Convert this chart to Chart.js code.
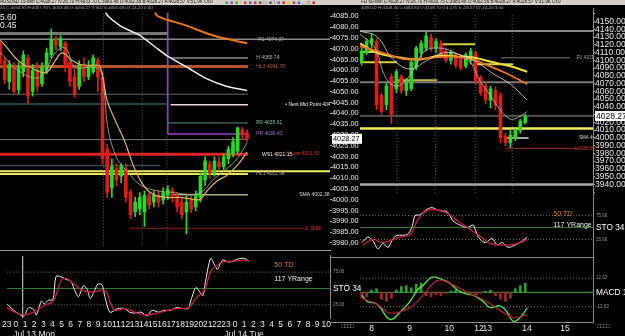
<!DOCTYPE html>
<html>
<head>
<meta charset="utf-8">
<script src="https://cdn.jsdelivr.net/npm/chart.js@4/dist/chart.umd.min.js"></script>
<style>
body { margin: 0; background: #000; width: 625px; height: 336px; overflow: hidden; position: relative; font-family: "Liberation Sans", Arial, sans-serif; }
canvas { position: absolute; }
.t { position: absolute; white-space: nowrap; line-height: 1; }
.ln { position: absolute; }
</style>
</head>
<body>
<canvas id="leftPrice" width="362" height="242" style="left:0;top:8px"></canvas>
<canvas id="leftSto" width="362" height="86" style="left:0;top:250px"></canvas>
<canvas id="rightPrice" width="265" height="190" style="left:360px;top:8px"></canvas>
<canvas id="rightSto" width="265" height="59" style="left:360px;top:198px"></canvas>
<canvas id="rightMacd" width="265" height="79" style="left:360px;top:257px"></canvas>

<div class="ln" style="left:0;top:0;width:625px;height:5px;background:#d4d0c8"></div>
<div class="t" style="left:0;top:0;font-size:4.6px;color:#111">AUSUSD 15-Min C:4028.27 N:26.70 H:4033.70 L:3983.48 O:4002.36 B:4028.27 A:4028.57 V:51.9K Oi:0</div>
<div class="t" style="left:225px;top:0;font-size:5px;letter-spacing:2px"><span style="color:#2a6">■</span><span style="color:#a4c">■</span><span style="color:#3a3">■</span><span style="color:#da3">/</span><span style="color:#c33">■</span><span style="color:#36c">■</span><span style="color:#c33">■</span><span style="color:#555">■</span><span style="color:#555">□</span><span style="color:#555">■</span><span style="color:#333">\</span><span style="color:#56c">■</span><span style="color:#c33">■</span><span style="color:#cc3">■</span><span style="color:#c33">■</span><span style="color:#36c">■</span><span style="color:#555">_</span><span style="color:#555">□</span><span style="color:#c22">■</span></div>
<div class="t" style="left:361px;top:0;font-size:4.6px;color:#111">FD 60-Min C:4028.27 N:26.70 H:4033.75 L:3983.48 O:4002.56 B:4028.27 A:4028.57 V:31.9K Oi:0</div>
<div class="t" style="left:0;top:6px;font-size:4.4px;color:#aaa">45 C:4054.81 H:4057.70 L:4053.38 O:4056.27 V:902 S:4056.68 07-13-20 0:00</div>
<div class="t" style="left:361px;top:6px;font-size:4.4px;color:#aaa">4090.02 H:4108.40 L:4084.84 O:4108.70 V:4,175 S:-19.57 07-14-20 3:00</div>
<div class="t" style="left:0;top:13px;font-size:8.5px;color:#eee">5.60</div>
<div class="t" style="left:0;top:21px;font-size:8.5px;color:#eee">0.45</div>

<div class="ln" style="left:0;top:250px;width:331px;height:1px;background:#999"></div>
<div class="ln" style="left:330px;top:257px;width:264px;height:1px;background:#888"></div>
<div class="ln" style="left:330px;top:322px;width:264px;height:1px;background:#888"></div>
<div class="ln" style="left:593px;top:8px;width:1px;height:314px;background:#888"></div>
<div class="t" style="left:341px;top:323px;font-size:6px;color:#aaa;letter-spacing:-0.5px">□□□□</div>
<div class="t" style="left:597px;top:323px;font-size:6px;color:#aaa;letter-spacing:-0.5px">□□□□</div>

<script>
// ---------- left window: 15-min, x in hours from Jul 13 00:00 ----------
const leftTimes = [-1,-0.5,0,0.5,1,1.5,2,2.5,3,3.5,4,4.5,5,5.5,6,6.5,7,7.5,8,8.5,9,9.5,10,10.5,11,11.5,12,12.5,13,13.5,14,14.5,15,15.5,16,16.5,17,17.5,18,18.5,19,19.5,20,20.5,21,21.5,22,22.5,23,23.5,24,24.5,25,25.5];
const leftOpen = [4072.5,4064.5,4054.7,4061.8,4051.1,4059.2,4065.8,4050.2,4060.0,4053.8,4060.0,4067.2,4073.9,4070.8,4072.5,4063.6,4056.9,4052.5,4062.7,4056.9,4059.2,4064.5,4056.9,4023.4,4005.6,4014.5,4010.9,4014.5,4003.4,3994.4,3995.8,3994.4,4002.0,3998.9,4002.0,3999.8,4002.0,4004.2,4002.0,3998.9,3994.4,3999.8,3996.7,4001.1,4009.2,4016.7,4012.3,4017.6,4015.4,4019.0,4021.2,4022.5,4032.4,4031.0];
const leftClose = [4063.6,4055.6,4062.7,4050.2,4061.4,4067.2,4048.0,4060.0,4052.5,4061.4,4068.1,4074.3,4071.7,4074.8,4061.4,4054.7,4049.3,4062.7,4056.9,4061.4,4065.8,4056.9,4019.0,4003.4,4015.4,4009.2,4015.4,4001.1,3993.1,3998.9,4001.1,4002.0,3997.5,4002.0,3998.9,4003.4,4004.7,4001.1,3996.7,3993.1,3998.9,3995.8,4002.0,4010.9,4018.1,4012.3,4018.1,4015.4,4019.9,4023.4,4027.0,4033.3,4030.1,4028.27];
const leftHigh = [4073.4,4065.8,4064.5,4063.6,4063.6,4069.0,4067.2,4062.7,4063.6,4063.6,4070.3,4079.2,4075.7,4076.1,4073.4,4065.8,4061.4,4064.5,4065.8,4064.5,4067.2,4065.8,4059.2,4025.7,4019.0,4016.7,4016.7,4016.7,4004.7,4001.1,4003.4,4004.2,4003.4,4004.2,4004.2,4005.6,4006.5,4005.6,4003.4,4001.1,4002.0,4002.0,4004.2,4012.3,4019.9,4018.1,4019.9,4019.9,4021.2,4024.8,4028.8,4033.7,4033.7,4032.4];
const leftLow = [4062.7,4053.8,4051.1,4049.3,4049.3,4056.9,4044.4,4048.0,4050.2,4052.5,4058.3,4065.8,4069.4,4069.0,4059.2,4052.5,4047.5,4051.1,4054.7,4055.6,4058.3,4050.2,4016.7,4001.1,4001.1,4006.5,4007.8,3998.9,3991.3,3992.2,3993.1,3987.7,3995.8,3996.7,3996.7,3998.0,4000.2,3998.9,3994.4,3991.3,3984.2,3994.0,3994.9,3998.9,4006.5,4010.0,4010.9,4013.6,4013.6,4016.7,4019.9,4021.2,4027.9,4027.0];

const leftTanX = [-0.96,-0.21,0.64,1.5,2.25,3.32,4.07,4.93,5.68,6.75,7.61,8.68,9.43,9.75,10.07,10.5,11.36,12.43,13.29,14.36,15.43,16.93,18.33,19.72,20.47,21.22,22.29,23.36,24.44,25.51];
const leftTanY = [4073.9,4070.3,4065.8,4062.7,4061.4,4059.2,4059.2,4064.5,4068.1,4064.5,4062.7,4062.3,4062.3,4061.4,4056.0,4045.8,4036.8,4026.6,4015.9,4006.9,4002.5,4001.1,4001.1,4000.2,4000.2,4004.2,4008.7,4011.4,4015.9,4022.1];
const leftFastX = [-0.96,1.18,3.32,4.93,6.0,7.07,8.68,9.75,10.18,10.61,11.58,12.65,14.04,15.86,17.58,19.72,20.79,21.86,23.36,24.44,25.51];
const leftFastY = [4068.1,4059.2,4056.9,4068.1,4070.3,4061.4,4061.4,4060.0,4050.2,4032.4,4019.0,4013.2,4006.9,4004.2,4003.4,4002.5,4004.2,4009.2,4014.5,4019.0,4026.6];
const leftSlowX = [10.2,10.61,11.9,12.97,14.04,15.65,16.93,19.08,21.22,23.36,25.51];
const leftSlowY = [4088.0,4085.0,4080.6,4078.3,4076.1,4070.8,4066.7,4061.4,4056.0,4052.5,4050.7];
const leftOrangeX = [15.5,15.97,19.08,21.86,24.01,25.51];
const leftOrangeY = [4087.5,4085.0,4080.6,4076.1,4073.9,4072.5];

const leftLevelPrices = [4077.0,4074.37,4065.74,4061.70,4048.9,4044.0,4044.4,4035.61,4030.43,4027.9,4021.15,4015.9,4013.2,4011.98,4002.38,3986.8];
const leftLevelFrom = [-1,-1,17.3,-1,-1,17.3,-1,17.0,17.0,-1,-1,-1,-1,-1,17.3,13.0];
const leftLevelTo = [17.0,34.4,25.6,25.6,25.6,25.6,17.0,25.6,25.6,25.6,25.6,16.2,34.4,25.6,25.6,31.7];
const leftSessionLines = [10.1,14.25,16.9];

const leftTagText = ['R1 4074.37','H 4065.74','HL3 4061.70','\u2022 Next Mid Point 404','R0 4035.61','PP 4030.43','WS1 4021.15','H Low 4021.50','HL1 4011.98','SMA 4002.38','L 3986'];
const leftTagHour = [26.7,26.5,26.5,29.6,26.5,26.5,27.1,29.7,26.5,31.1,31.8];
const leftTagPrice = [4074.37,4065.74,4061.70,4044.0,4035.61,4030.43,4021.15,4021.50,4011.98,4002.38,3986.8];

const leftStoWX = [-0.96,-0.1,0.86,1.39,1.93,2.25,2.79,3.11,3.54,4.07,4.39,4.93,5.47,6.0,6.54,6.86,7.4,7.82,8.15,8.68,9.0,9.43,9.75,10.29,10.83,11.15,11.9,12.43,12.97,13.72,14.36,14.9,15.65,16.18,16.93,17.58,18.33,18.86,19.08,19.4,19.72,20.15,20.47,20.79,21.33,21.76,22.08,22.62,23.37,24.0,24.54,25.08,25.51];
const leftStoWY = [26.4,15.3,8.3,20.8,18.1,9.7,30.6,26.4,31.9,33.3,68.1,68.1,63.9,61.1,44.4,37.5,54.2,48.6,34.7,48.6,56.9,55.6,37.5,13.9,16.7,19.4,19.4,13.9,12.5,13.9,8.3,16.7,13.9,16.7,16.7,20.8,19.4,19.4,27.8,41.7,51.4,44.4,38.9,62.5,95.8,86.1,79.2,93.1,90.3,93.1,95.8,95.8,91.7];
const leftStoRX = [-0.96,-0.1,0.86,1.93,3.0,4.07,4.93,5.47,6.22,7.29,8.36,9.75,10.29,10.83,11.9,13.29,14.36,15.86,17.58,18.86,19.72,20.69,21.33,21.86,22.62,24.0,25.08,25.51];
const leftStoRY = [20.8,13.9,9.7,13.9,23.6,30.6,61.1,65.3,58.3,47.2,44.4,47.2,30.6,16.7,19.4,12.5,9.7,13.9,19.4,20.8,34.7,48.6,76.4,83.3,90.3,91.7,93.1,91.7];

const leftTickHours = [-1,0,1,2,3,4,5,6,7,8,9,10,11,12,13,14,15,16,17,18,19,20,21,22,23,24,25,26,27,28,29,30,31,32,33,34];
const leftTickLabels = ['23','0','1','2','3','4','5','6','7','8','9','10','11','12','13','14','15','16','17','18','19','20','21','22','23','0','1','2','3','4','5','6','7','8','9','10','11'];
const leftDateHours = [2,25];
const leftDateLabels = ['Jul 13 Mon','Jul 14 Tue'];

// ---------- right window: 60-min, x in session hours ----------
const rightTimes = [1,4,7,10,13,16,19,22,25,28,31,34,37,40,43,46,49,52,55,58,61,64,67,70,73,76,79,82,85,88,91,94,97,100];
const rightOpen = [4097.5,4109.7,4121.9,4124.4,4054.8,4042.6,4079.2,4063.3,4079.2,4060.9,4063.3,4091.4,4109.7,4115.8,4129.2,4115.8,4121.9,4112.1,4099.9,4107.3,4103.6,4092.6,4099.9,4109.7,4078.0,4067.0,4048.7,4060.9,4054.8,4002.3,3993.7,3999.8,4009.6,4019.4];
const rightClose = [4112.1,4124.4,4128.0,4042.6,4034.0,4067.0,4030.3,4085.3,4060.9,4073.1,4097.5,4115.8,4121.9,4131.7,4115.8,4124.4,4107.3,4099.9,4109.7,4093.8,4090.2,4107.3,4112.1,4073.1,4058.4,4048.7,4063.3,4042.6,3999.8,3993.7,4003.5,4009.6,4021.8,4028.27];
const rightHigh = [4115.8,4128.0,4134.1,4128.0,4058.4,4070.6,4082.8,4087.7,4081.6,4076.7,4101.2,4118.3,4125.6,4136.6,4134.1,4128.0,4125.6,4115.8,4113.4,4109.7,4107.3,4109.7,4115.8,4112.1,4080.4,4070.6,4067.0,4065.8,4058.4,4005.9,4009.6,4012.0,4024.2,4030.3];
const rightLow = [4093.8,4107.3,4115.8,4036.4,4030.3,4036.4,4018.1,4058.4,4057.2,4054.8,4060.9,4087.7,4103.6,4112.1,4112.1,4109.7,4103.6,4097.5,4095.1,4090.2,4087.7,4090.2,4095.1,4069.4,4054.8,4043.8,4038.9,4036.4,3993.7,3990.1,3987.6,3996.2,4005.9,4018.1];

const rYellowX = [0,10.3,24.2,36.4,48.5,58.8,68.5,80.6,92.7,101.2];
const rYellowY = [4121.9,4109.7,4103.6,4101.2,4106.0,4104.8,4103.6,4097.5,4091.4,4085.3];
const rOrangeX = [0,13.9,28.5,44.2,56.4,68.5,77,89.1,101.2];
const rOrangeY = [4118.3,4109.7,4101.2,4103.6,4104.8,4101.2,4093.8,4082.8,4069.4];
const rSlowX = [0,10.3,20,30.3,40.6,50.3,60.6,70.9,80.6,90.9,101.2];
const rSlowY = [4137.8,4130.5,4101.2,4088.9,4099.9,4109.7,4107.3,4097.5,4082.8,4069.4,4048.7];
const rFastX = [0,9.1,15.2,21.2,27.3,33.3,39.4,48.5,57.6,66.7,72.7,78.8,84.8,90.9,95.8,101.2];
const rFastY = [4134.1,4115.8,4079.2,4067.0,4073.1,4091.4,4112.1,4115.8,4109.7,4097.5,4073.1,4054.8,4036.4,4024.2,4026.7,4034.0];

const rightLevelPrices = [4137.8,4071.9,4028.27,4011.98,3940,4097.5,4110.9,4074.3,4120.7,4095.1,4103.31,3999.8,3986.5];
const rightLevelFrom = [0,0,0,0,0,0,0,22.4,48.5,68.5,85,88,88];
const rightLevelTo = [141,141,141,141,141,22.4,12,46.7,69.7,92.7,127,102,133];
const rightSessionLines = [22.4,45.5,69.7,92.1];
const rightTagText = ['R1 4103.31','SMA 4002.38','L 3986.50'];
const rightTagHour = [131,132.5,130];
const rightTagPrice = [4103.31,3999.8,3986.5];

const rStoWX = [1.2,4.8,7.9,10.9,13.9,17,20,22.4,28.5,31.5,33.3,36.4,40.6,43.6,48.5,52.7,56.4,60.6,64.8,68.5,70.9,72.7,75.8,80,83,86.1,89.7,93.9,98.2,101.2];
const rStoWY = [18.3,30,21.7,5,16.7,8.3,26.7,33.3,35,51.7,75,76.7,88.3,91.7,85,83.3,63.3,55,50,55,35,25,18.3,26.7,13.3,18.3,8.3,13.3,21.7,30];
const rStoRX = [1.8,7.9,13.9,24.2,30.3,34.5,38.2,43.6,52.7,60.6,68.5,74.5,78.8,84.8,90.9,97,101.2];
const rStoRY = [13.3,25,18.3,30,35,63.3,80,88.3,80,60,41.7,26.7,16.7,13.3,13.3,18.3,25];

const rMacdX = [1.2,4.2,10.3,18.2,24.2,30.3,34.5,38.2,43.6,48.5,54.5,59.4,64.8,68.5,74.5,78.8,84.8,89.1,92.7,97,101.2];
const rMacdY = [-2.4,-7.9,-10.3,-23.7,-17.4,-7.9,1.6,6.3,13.4,11.8,7.9,1.6,-1.6,-2.4,-7.9,-13.4,-11.8,-17.4,-25.3,-22.1,-13.4];
const rSigX = [1.2,10.3,18.2,30.3,38.2,46.7,54.5,64.8,74.5,84.8,92.7,101.2];
const rSigY = [-5.5,-10.3,-18.2,-13.4,-2.4,10.3,7.9,0,-6.3,-15.8,-22.1,-19.7];
const rHistY = [-5,-4,2,3,-6,-8,-5,2,5,6,4,7,8,-3,-4,-2,-3,-1,1,2,1,1,-1,-2,-1,1,2,-3,-6,-8,-5,3,6,8];

const rightDayPos = [7,30,54,72,77,101,124];
const rightDayLabels = ['8','9','10','12','13','14','15'];

// ---------- helpers ----------
Chart.defaults.font.family = '"Liberation Sans", Arial, sans-serif';
Chart.defaults.color = '#ddd';
Chart.defaults.animation = false;

const UP = '#27d827', DOWN = '#e01c1c';
const FONT = '"Liberation Sans", Arial, sans-serif';

function seg(x0, x1, y0, y1, color, width, dash) {
    return { type: 'line', data: [{x: x0, y: y0}, {x: x1, y: y1}], borderColor: color, borderWidth: width,
        borderDash: dash || [], pointRadius: 0, tension: 0, order: 5 };
}

function curve(xs, ys, color, width, tension) {
    return { type: 'line', data: xs.map((x, i) => ({x: x, y: ys[i]})), borderColor: color, borderWidth: width,
        pointRadius: 0, tension: tension, order: 2 };
}

function candles(times, o, c, h, l, body) {
    const colors = o.map((v, i) => c[i] >= v ? UP : DOWN);
    return [
        { type: 'bar', data: times.map((t, i) => ({x: t, y: [l[i], h[i]]})), backgroundColor: colors,
          barThickness: 1, grouped: false, order: 3 },
        { type: 'bar', data: times.map((t, i) => ({x: t, y: [o[i], c[i]]})), backgroundColor: colors,
          barThickness: body, grouped: false, order: 3 }
    ];
}

const tagPlugin = {
    id: 'tags',
    afterDatasetsDraw(chart, args, opts) {
        const { ctx, chartArea, scales } = chart;
        ctx.save();
        ctx.beginPath();
        ctx.rect(chartArea.left, chartArea.top, chartArea.width, chartArea.height);
        ctx.clip();
        ctx.textBaseline = 'middle';
        (opts.items || []).forEach(t => {
            ctx.font = (t.size || 5) + 'px ' + FONT;
            ctx.fillStyle = t.color || '#ccc';
            ctx.fillText(t.text, scales.x.getPixelForValue(t.x), scales.y.getPixelForValue(t.y));
        });
        ctx.restore();
        // date captions under the hour ticks
        (opts.dates || []).forEach(d => {
            ctx.save();
            ctx.font = '8.5px ' + FONT;
            ctx.fillStyle = '#e8e8e8';
            ctx.textAlign = 'center';
            ctx.textBaseline = 'top';
            ctx.fillText(d.text, scales.x.getPixelForValue(d.x), chartArea.bottom + 12);
            ctx.restore();
        });
        if (opts.box !== undefined) {
            const y = scales.y.getPixelForValue(opts.box);
            ctx.save();
            ctx.fillStyle = '#fff';
            ctx.fillRect(chartArea.right + 2, y - 5, 30, 10);
            ctx.fillStyle = '#000';
            ctx.font = opts.boxSize + 'px ' + FONT;
            ctx.textBaseline = 'middle';
            ctx.fillText(opts.box.toFixed(2), chartArea.right + 3, y + 0.5);
            ctx.restore();
        }
    }
};
Chart.register(tagPlugin);

function baseOptions(xmin, xmax, ymin, ymax, yWidth, yTicks, xAxis, tags) {
    return {
        responsive: false, maintainAspectRatio: false, events: [],
        layout: { padding: 0 },
        plugins: { legend: { display: false }, tooltip: { enabled: false }, tags: tags },
        scales: {
            x: Object.assign({ type: 'linear', min: xmin, max: xmax, offset: false, display: false,
                grid: { display: false, drawTicks: false } }, xAxis || {}),
            y: Object.assign({ position: 'right', min: ymin, max: ymax,
                afterFit: s => { s.width = yWidth; },
                grid: { display: false, drawTicks: false }, border: { display: false } }, yTicks)
        }
    };
}

function priceTicks(step, lo, hi, size) {
    return {
        grid: { display: true, drawOnChartArea: false, drawTicks: true, tickLength: 2, color: '#aaa' },
        ticks: { stepSize: step, autoSkip: false, maxTicksLimit: 100, includeBounds: false, padding: 0,
            color: '#e8e8e8', font: { size: size },
            callback: v => (v >= lo && v <= hi) ? v.toFixed(2) : '' }
    };
}

function oscTicks(values, labels) {
    const named = c => c.tick && /[A-Z]/.test(labels[values.indexOf(c.tick.value)]);
    return {
        afterBuildTicks: s => { s.ticks = values.map(v => ({ value: v })); },
        ticks: { autoSkip: false, padding: 3,
            callback: (v, i) => labels[i],
            color: c => named(c) ? '#fff' : '#999',
            font: c => ({ size: named(c) ? 8.3 : 4.5 }) }
    };
}

// ---------- left price pane ----------
const leftLevelStyle = [
    ['#777', 3], ['#8a8a8a', 1.5], ['#8a8a8a', 1.5], ['#b5532e', 3], ['#666', 1], ['#e8d8e0', 1.5], ['#2d5a5a', 1.5],
    ['#5f8f80', 1], ['#9a40c8', 1.5], ['#777', 1], ['#d82424', 3], ['#3a4a5a', 1.5], ['#f2f05a', 2], ['#e8e060', 2],
    ['#a8a880', 1.5], ['#8a2020', 1]
];
const leftTagColor = ['#aaa','#bbb','#c9603a','#eee','#7cc8a0','#b070d8','#eee','#e83030','#aaa','#ddd','#d83030'];

const leftDatasets = []
    .concat(leftSessionLines.map(h => seg(h, h, 3978.8, 4086.8, '#666', 1, [1, 2])))
    .concat(leftLevelPrices.map((p, i) => seg(leftLevelFrom[i], leftLevelTo[i], p, p, leftLevelStyle[i][0], leftLevelStyle[i][1])))
    .concat([seg(17.0, 17.0, 4086.8, 4030.43, '#9a40c8', 1.5)])
    .concat(candles(leftTimes, leftOpen, leftClose, leftHigh, leftLow, 3))
    .concat([
        curve(leftSlowX, leftSlowY, '#f0f0f0', 1.5, 0.3),
        curve(leftOrangeX, leftOrangeY, '#e8761e', 2, 0.4),
        curve(leftTanX, leftTanY, '#e0b45a', 1.2, 0.4),
        curve(leftFastX, leftFastY, '#9fbf9a', 0.8, 0.4)
    ]);

new Chart(document.getElementById('leftPrice'), {
    type: 'bar',
    data: { datasets: leftDatasets },
    options: baseOptions(-1, 34.4, 3978.8, 4086.8, 32, priceTicks(5, 3980, 4085, 7.4), null, {
        items: leftTagText.map((t, i) => ({ text: t, x: leftTagHour[i], y: leftTagPrice[i], color: leftTagColor[i], size: 5 })),
        box: 4028.27, boxSize: 7.4
    })
});

// ---------- left stochastic pane ----------
new Chart(document.getElementById('leftSto'), {
    type: 'line',
    data: { datasets: [
        seg(-1, 34.4, 75, 75, '#777', 1, [1, 2]),
        seg(-1, 34.4, 25, 25, '#777', 1, [1, 2]),
        seg(-1, 34.4, 50, 50, '#2f7a2f', 1),
        seg(0.75, 0.75, 5, 100, '#ddd', 1),
        curve(leftStoRX, leftStoRY, '#c8203c', 1.3, 0.4),
        curve(leftStoWX, leftStoWY, '#eeeeee', 1, 0.3)
    ] },
    options: (() => {
        const o = baseOptions(-1, 34.4, 5, 100, 32, oscTicks([25, 50, 75], ['25.00', 'STO 34', '75.00']), {
            display: true,
            afterFit: s => { s.height = 18; },
            afterBuildTicks: s => { s.ticks = leftTickHours.map(v => ({ value: v })); },
            ticks: { autoSkip: false, maxRotation: 0, padding: 2, color: '#e8e8e8', font: { size: 8.5 },
                callback: (v, i) => leftTickLabels[i] }
        }, {
            items: [
                { text: '50 TD', x: 28.3, y: 85, color: '#e07a20', size: 7 },
                { text: '117 YRange', x: 28.3, y: 64, color: '#eee', size: 7 }
            ],
            dates: leftDateLabels.map((t, i) => ({ text: t, x: leftDateHours[i] }))
        });
        o.scales.y.border = { display: true, color: '#888', width: 1 };
        return o;
    })()
});

// ---------- right price pane ----------
const rightLevelStyle = [
    ['#8a8a8a', 2], ['#7a7a7a', 2], ['#999', 1], ['#f0ee50', 2.5], ['#aaa', 2.5], ['#d6d040', 2], ['#d6d040', 2],
    ['#c0b840', 2], ['#d6d040', 2], ['#d6d040', 2], ['#777', 1], ['#ddd', 1.5], ['#a02828', 1]
];
const rightDatasets = []
    .concat(rightSessionLines.map(h => seg(h, h, 3929, 4161, '#666', 1, [1, 2])))
    .concat(rightLevelPrices.map((p, i) => seg(rightLevelFrom[i], rightLevelTo[i], p, p, rightLevelStyle[i][0], rightLevelStyle[i][1])))
    .concat(candles(rightTimes, rightOpen, rightClose, rightHigh, rightLow, 3))
    .concat([
        curve(rSlowX, rSlowY, '#d8d8d8', 0.8, 0.4),
        curve(rFastX, rFastY, '#bdbdbd', 0.8, 0.4),
        curve(rOrangeX, rOrangeY, '#e8761e', 1.8, 0.4),
        curve(rYellowX, rYellowY, '#f0e040', 2, 0.4)
    ]);

new Chart(document.getElementById('rightPrice'), {
    type: 'bar',
    data: { datasets: rightDatasets },
    options: baseOptions(0, 141, 3929, 4161, 32, priceTicks(10, 3940, 4150, 8.5), null, {
        items: rightTagText.map((t, i) => ({ text: t, x: rightTagHour[i], y: rightTagPrice[i],
            color: ['#aaa', '#ddd', '#d03030'][i], size: 4.5 })),
        box: 4028.27, boxSize: 8.5
    })
});

// ---------- right stochastic pane ----------
new Chart(document.getElementById('rightSto'), {
    type: 'line',
    data: { datasets: [
        seg(0, 141, 75, 75, '#777', 1, [1, 2]),
        seg(0, 141, 25, 25, '#777', 1, [1, 2]),
        seg(0, 141, 50, 50, '#2f7a2f', 1),
        curve(rStoRX, rStoRY, '#c8203c', 1.3, 0.4),
        curve(rStoWX, rStoWY, '#eeeeee', 1, 0.3)
    ] },
    options: baseOptions(0, 141, 0, 100, 32, oscTicks([25, 50, 75], ['25.00', 'STO 34', '75.00']), null, {
        items: [
            { text: '50 TD', x: 117, y: 78, color: '#e07a20', size: 7 },
            { text: '117 YRange', x: 117, y: 55, color: '#eee', size: 7 }
        ]
    })
});

// ---------- right MACD pane ----------
new Chart(document.getElementById('rightMacd'), {
    type: 'bar',
    data: { datasets: [
        seg(0, 141, 12.63, 12.63, '#777', 1, [1, 2]),
        seg(0, 141, -12.63, -12.63, '#777', 1, [1, 2]),
        seg(0, 141, 0, 0, '#2f8a2f', 1.2),
        { type: 'bar', data: rightTimes.map((t, i) => ({ x: t, y: rHistY[i] })),
          backgroundColor: rHistY.map(v => v >= 0 ? '#2f9a2f' : '#a82424'), barThickness: 2, grouped: false, order: 4 },
        curve(rSigX, rSigY, '#b02035', 1.2, 0.4),
        curve(rMacdX, rMacdY, '#4ee04e', 1.4, 0.4)
    ] },
    options: baseOptions(0, 141, -26, 26, 32, oscTicks([-12.63, 0, 12.63], ['-12.63', 'MACD 12', '12.63']), {
        display: true,
        afterFit: s => { s.height = 14; },
        afterBuildTicks: s => { s.ticks = rightDayPos.map(v => ({ value: v })); },
        ticks: { autoSkip: false, maxRotation: 0, padding: 2, color: '#e8e8e8', font: { size: 8.5 },
            callback: (v, i) => rightDayLabels[i] }
    }, { items: [] })
});
</script>
</body>
</html>
